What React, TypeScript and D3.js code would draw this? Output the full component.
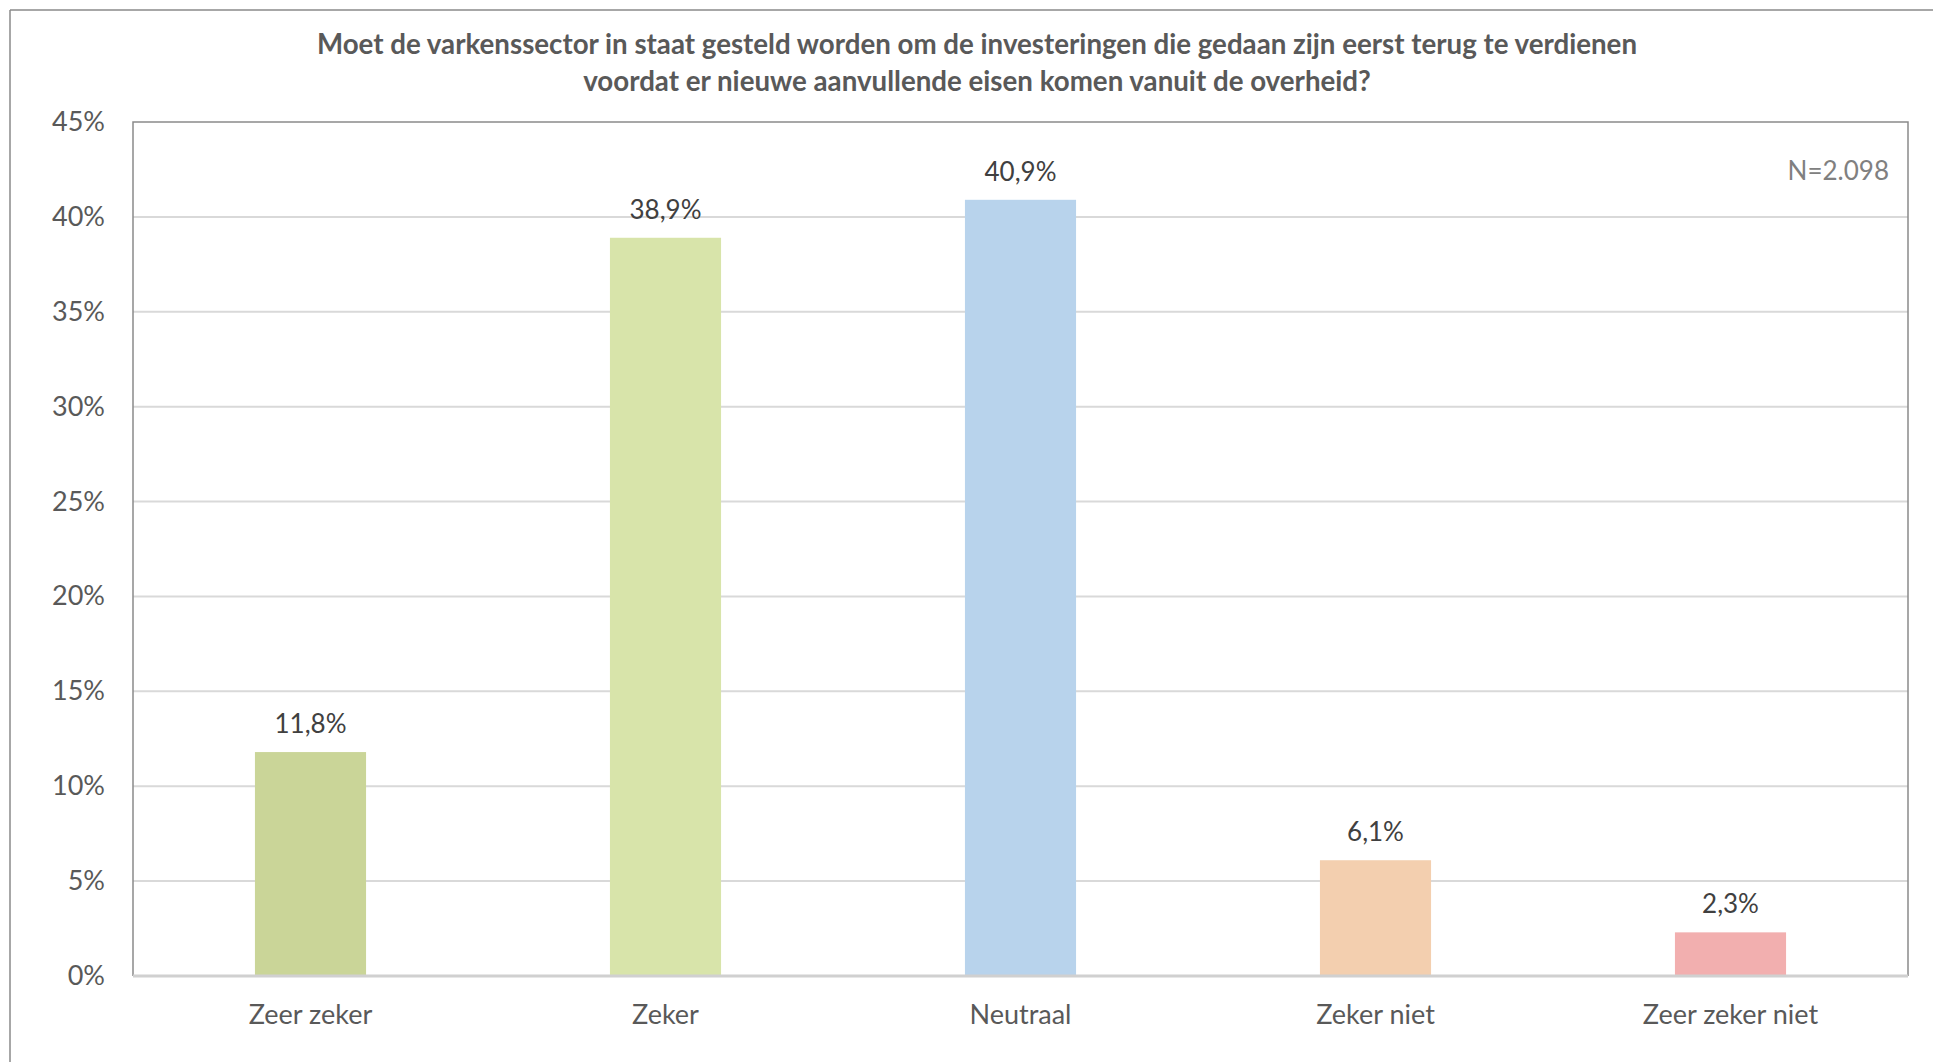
import React from "react";
import * as d3 from "d3";

const titleLines = [
  "Moet de varkenssector in staat gesteld worden om de investeringen die gedaan zijn eerst terug te verdienen",
  "voordat er nieuwe aanvullende eisen komen vanuit de overheid?",
];
const categories = ["Zeer zeker", "Zeker", "Neutraal", "Zeker niet", "Zeer zeker niet"];
const values = [11.8, 38.9, 40.9, 6.1, 2.3];
const barColors = ["#CAD598", "#D8E4AA", "#B8D3EC", "#F3CFAF", "#F2AFAF"];
const yTicks = [0, 5, 10, 15, 20, 25, 30, 35, 40, 45];
const noteText = "N=2.098";

const W = 1933;
const H = 1062;
const plot = { left: 133, right: 1908, top: 122, bottom: 976 };
const FONT = "Lato, 'Open Sans', sans-serif";

export default function App() {
  const x = d3
    .scaleBand<string>()
    .domain(categories)
    .range([plot.left, plot.right])
    .paddingInner(0.687)
    .paddingOuter(0.687 / 2);
  const y = d3.scaleLinear().domain([0, 45]).range([plot.bottom, plot.top]);
  const fmt = (v: number) => d3.format(".1f")(v).replace(".", ",") + "%";

  return (
    <svg
      width={W}
      height={H}
      style={{ position: "absolute", left: 0, top: 0, background: "#fff" }}
      fontFamily={FONT}
    >
      <rect x={0} y={0} width={W} height={H} fill="#fff" />
      {/* outer chart frame */}
      <line x1={10} y1={10} x2={W} y2={10} stroke="#8a8a8a" strokeWidth={1.5} />
      <line x1={10} y1={10} x2={10} y2={H} stroke="#8a8a8a" strokeWidth={1.5} />

      {/* title */}
      {titleLines.map((t, i) => (
        <text
          key={i}
          x={977}
          y={54 + i * 37}
          textAnchor="middle"
          fontSize={27.7}
          fontWeight={700}
          fill="#595959"
        >
          {t}
        </text>
      ))}

      {/* gridlines */}
      {yTicks.map((t) =>
        t > 0 && t < 45 ? (
          <line
            key={t}
            x1={plot.left}
            x2={plot.right}
            y1={y(t)}
            y2={y(t)}
            stroke="#D9D9D9"
            strokeWidth={2}
          />
        ) : null
      )}

      {/* plot border */}
      <path
        d={`M${plot.left},${plot.bottom} V${plot.top} H${plot.right} V${plot.bottom}`}
        fill="none"
        stroke="#8a8a8a"
        strokeWidth={1.5}
      />

      {/* bars */}
      {categories.map((c, i) => (
        <rect
          key={c}
          x={x(c)}
          y={y(values[i])}
          width={x.bandwidth()}
          height={y(0) - y(values[i])}
          fill={barColors[i]}
        />
      ))}

      {/* x axis line */}
      <line
        x1={plot.left}
        x2={plot.right}
        y1={y(0)}
        y2={y(0)}
        stroke="#D0D0D0"
        strokeWidth={3}
      />

      {/* data labels */}
      {categories.map((c, i) => (
        <text
          key={c}
          x={(x(c) as number) + x.bandwidth() / 2}
          y={y(values[i]) - 19}
          textAnchor="middle"
          fontSize={26}
          fill="#404040"
        >
          {fmt(values[i])}
        </text>
      ))}

      {/* y tick labels */}
      {yTicks.map((t) => (
        <text
          key={t}
          x={105}
          y={y(t) + 9}
          textAnchor="end"
          fontSize={27}
          fill="#595959"
        >
          {t + "%"}
        </text>
      ))}

      {/* category labels */}
      {categories.map((c) => (
        <text
          key={c}
          x={(x(c) as number) + x.bandwidth() / 2}
          y={1024}
          textAnchor="middle"
          fontSize={27}
          fill="#595959"
        >
          {c}
        </text>
      ))}

      {/* N note */}
      <text x={1889} y={180} textAnchor="end" fontSize={26} fill="#808080">
        {noteText}
      </text>
    </svg>
  );
}
